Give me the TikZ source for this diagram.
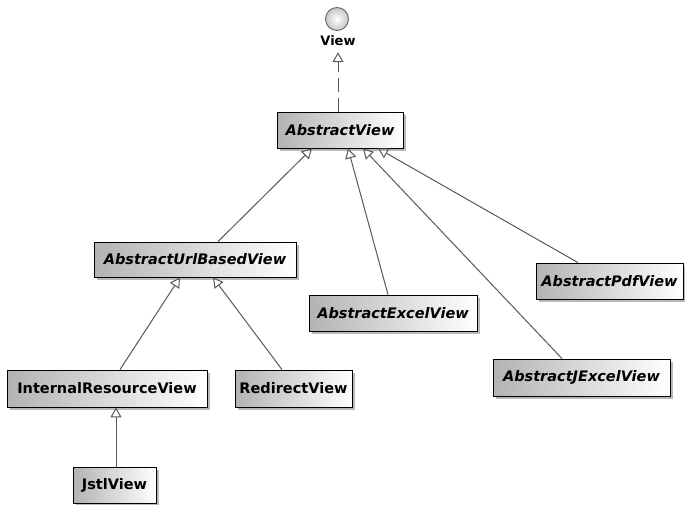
\documentclass[tikz,border=0pt]{standalone}
\usepackage{fontspec}
\setmainfont{DejaVu Sans}
\usetikzlibrary{arrows.meta,shadows}

\begin{document}
\begin{tikzpicture}[x=1pt,y=-1pt,
		classbox/.style={draw=black,line width=0.8pt,left color=gray!60,right color=white,
		drop shadow={shadow xshift=3pt,shadow yshift=-3pt,opacity=0.55},
		inner sep=0pt,font=\fontsize{14.5}{16}\selectfont\bfseries},
		abstractbox/.style={classbox,font=\fontsize{14.5}{16}\selectfont\bfseries\itshape},
		inherit/.style={draw=black!65,line width=1pt,-{Triangle[open,width=11pt,length=10pt]}}
		]
		\useasboundingbox (0,0) rectangle (685,504);
		\fill[white] (0,0) rectangle (685,504);
		
		\node[circle,draw=black!60,line width=0.9pt,inner color=white,outer color=gray!45,
		minimum size=23pt,inner sep=0pt](View) at (337,19){};
		\node[font=\fontsize{13}{15}\selectfont\bfseries,inner sep=1pt](ViewLbl) at (338,41){View};
		
		\node[abstractbox,minimum width=126pt,minimum height=36pt](AV) at (340,130){AbstractView};
		\node[abstractbox,minimum width=202pt,minimum height=35pt](AUBV) at (195,259.5){AbstractUrlBasedView};
		\node[classbox,minimum width=200pt,minimum height=37pt](IRV) at (107,388.5){InternalResourceView};
		\node[classbox,minimum width=117pt,minimum height=37pt](RV) at (293.5,388.5){RedirectView};
		\node[classbox,minimum width=83pt,minimum height=36pt](JV) at (114.5,485){JstlView};
		\node[abstractbox,minimum width=168pt,minimum height=36pt](AEV) at (393,313){AbstractExcelView};
		\node[abstractbox,minimum width=147pt,minimum height=36pt](APV) at (609.5,281){AbstractPdfView};
		\node[abstractbox,minimum width=177pt,minimum height=37pt](AJEV) at (581.5,377.5){AbstractJExcelView};
		
		\draw[inherit,dashed,dash pattern=on 14pt off 6pt,shorten >=5pt] ([xshift=-2pt]AV.north) -- (ViewLbl.south);
		\draw[inherit] ([xshift=23pt]AUBV.north) -- ([xshift=-28pt]AV.south);
		\draw[inherit] ([xshift=-5pt]AEV.north) -- ([xshift=8pt]AV.south);
		\draw[inherit] ([xshift=-19.5pt]AJEV.north) -- ([xshift=23pt]AV.south);
		\draw[inherit] ([xshift=-31.5pt]APV.north) -- ([xshift=38pt]AV.south);
		\draw[inherit] ([xshift=13pt]IRV.north) -- ([xshift=-15pt]AUBV.south);
		\draw[inherit] ([xshift=-11.5pt]RV.north) -- ([xshift=18pt]AUBV.south);
		\draw[inherit] ([xshift=1.5pt]JV.north) -- ([xshift=9pt]IRV.south);
	\end{tikzpicture}
\end{document}
